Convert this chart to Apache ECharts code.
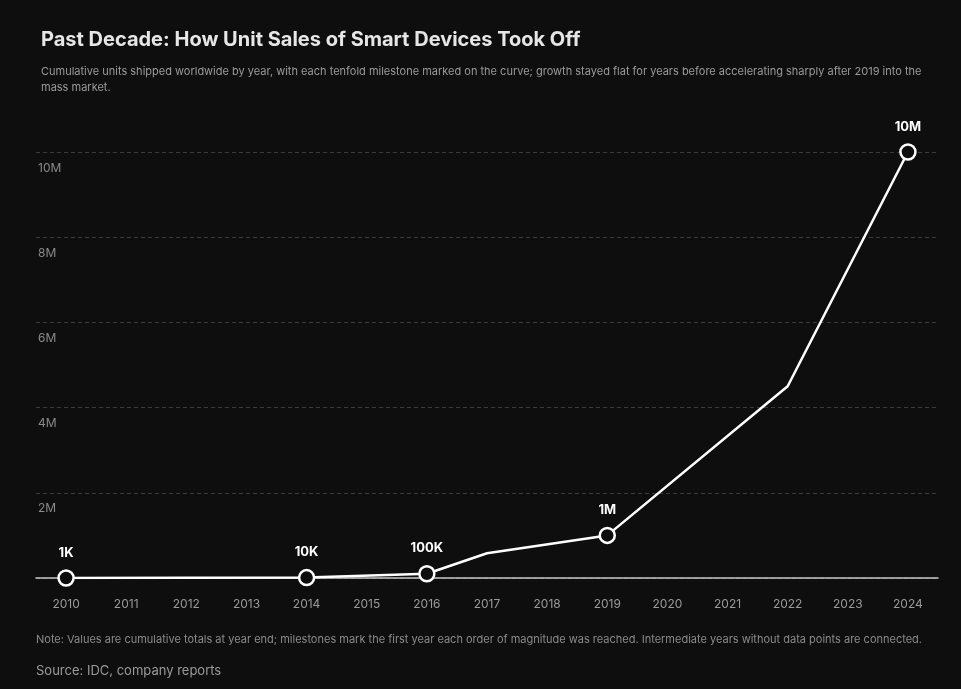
<!DOCTYPE html>
<html>
<head>
<meta charset="utf-8">
<script src="https://cdn.jsdelivr.net/npm/echarts@6/dist/echarts.min.js"></script>
<style>
  html, body { margin: 0; padding: 0; background: #0e0e0e; }
  #chart { width: 961px; height: 689px; }
</style>
</head>
<body>
<div id="chart"></div>
<script>
const categories = ['2010','2011','2012','2013','2014','2015','2016','2017','2018','2019','2020','2021','2022','2023','2024'];
const values = [1000, null, null, null, 10000, null, 100000, 580000, null, 1000000, null, null, 4500000, null, 10000000];
const milestoneLabels = ['1K', '', '', '', '10K', '', '100K', '', '', '1M', '', '', '', '', '10M'];
const yTicks = [0, 2000000, 4000000, 6000000, 8000000, 10000000];
const yTickLabels = ['', '2M', '4M', '6M', '8M', '10M'];

const seriesData = values.map((v, i) => {
  const lab = milestoneLabels[i];
  if (v === null) return null;
  return {
    value: v,
    symbolSize: lab ? 15 : 0,
    label: { show: !!lab, formatter: lab }
  };
});

const chart = echarts.init(document.getElementById('chart'), null, { renderer: 'canvas' });
chart.setOption({
  backgroundColor: '#0e0e0e',
  animation: false,
  title: [
    {
      text: 'Past Decade: How Unit Sales of Smart Devices Took Off',
      left: 36, top: 25,
      textStyle: { color: '#e6e6e6', fontSize: 20, fontWeight: 'bold', fontFamily: 'Inter' }
    },
    {
      text: 'Cumulative units shipped worldwide by year, with each tenfold milestone marked on the curve; growth stayed flat for years before accelerating sharply after 2019 into the\nmass market.',
      left: 36, top: 59,
      textStyle: { color: '#9a9a9a', fontSize: 11, fontWeight: 'normal', lineHeight: 16, fontFamily: 'Inter' }
    }
  ],
  grid: { left: 36, right: 23, top: 152, bottom: 111, containLabel: false },
  xAxis: {
    type: 'category',
    data: categories,
    boundaryGap: true,
    axisLine: { lineStyle: { color: '#c8c8c8', width: 1.5 } },
    axisTick: { show: false },
    axisLabel: { color: '#9a9a9a', fontSize: 12, margin: 20, fontFamily: 'Inter' }
  },
  yAxis: {
    type: 'value',
    min: yTicks[0],
    max: yTicks[yTicks.length - 1],
    interval: yTicks[1] - yTicks[0],
    axisLine: { show: false },
    axisTick: { show: false },
    splitLine: { lineStyle: { color: '#3a3a3a', type: [4, 3], width: 1 } },
    axisLabel: {
      inside: true,
      margin: 2,
      color: '#8a8a8a',
      fontSize: 12,
      fontFamily: 'Inter',
      verticalAlign: 'top',
      padding: [10, 0, 0, 0],
      formatter: (v) => {
        const idx = yTicks.indexOf(v);
        return idx >= 0 ? yTickLabels[idx] : '';
      }
    }
  },
  series: [{
    type: 'line',
    data: seriesData,
    connectNulls: true,
    symbol: 'circle',
    showAllSymbol: true,
    lineStyle: { color: '#ffffff', width: 2.5 },
    itemStyle: { color: '#0e0e0e', borderColor: '#ffffff', borderWidth: 2.5 },
    label: {
      position: 'top',
      distance: 10,
      color: '#ffffff',
      fontSize: 13,
      fontWeight: 'bold',
      fontFamily: 'Inter'
    },
    z: 3
  }],
  graphic: [
    {
      type: 'text', left: 36, top: 634,
      style: {
        text: 'Note: Values are cumulative totals at year end; milestones mark the first year each order of magnitude was reached. Intermediate years without data points are connected.',
        fill: '#8a8a8a', fontSize: 11, fontFamily: 'Inter'
      }
    },
    {
      type: 'text', left: 36, top: 665,
      style: {
        text: 'Source: IDC, company reports',
        fill: '#9a9a9a', fontSize: 13, fontFamily: 'Inter'
      }
    }
  ]
});
</script>
</body>
</html>
